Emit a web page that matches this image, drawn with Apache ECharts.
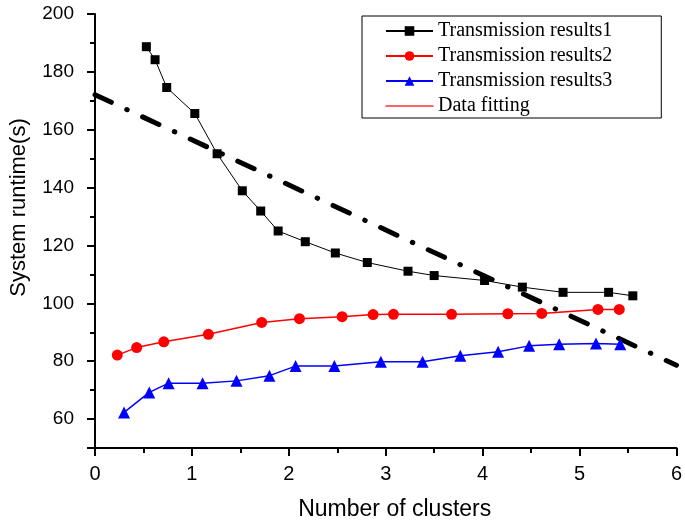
<!DOCTYPE html>
<html>
<head>
<meta charset="utf-8">
<script src="https://cdn.jsdelivr.net/npm/echarts@6/dist/echarts.min.js"></script>
<style>html,body{margin:0;padding:0;background:#fff}#c{width:685px;height:526px}</style>
</head>
<body>
<div id="c"></div>
<script>
const seriesNames = ['Transmission results1','Transmission results2','Transmission results3','Data fitting'];
const s1x = [0.53,0.62,0.74,1.03,1.26,1.52,1.71,1.89,2.17,2.48,2.81,3.23,3.50,4.02,4.41,4.83,5.30,5.55];
const s1y = [188.7,184.2,174.6,165.6,151.7,138.9,131.9,125.0,121.3,117.4,114.1,111.1,109.6,107.9,105.6,103.8,103.8,102.6];
const s2x = [0.23,0.43,0.71,1.17,1.72,2.11,2.55,2.87,3.08,3.68,4.26,4.61,5.19,5.41];
const s2y = [82.1,84.7,86.7,89.3,93.4,94.7,95.4,96.1,96.2,96.2,96.4,96.5,97.9,97.9];
const s3x = [0.30,0.56,0.76,1.11,1.46,1.80,2.07,2.47,2.95,3.38,3.77,4.16,4.48,4.79,5.17,5.42];
const s3y = [62.3,69.2,72.4,72.4,73.2,75.0,78.3,78.3,79.8,79.8,81.9,83.3,85.3,85.9,86.1,85.9];
const fitX = [0, 6];
const fitY = [172.1, 78.6];
const yLabelValues = [60,80,100,120,140,160,180,200];
const yMajorTicks = [50,60,80,100,120,140,160,180,200];

const pairs = (xs, ys) => xs.map((x, i) => [x, ys[i]]);
const axisCol = '#000';
const chart = echarts.init(document.getElementById('c'), null, {renderer:'canvas'});
const option = {
  animation: false,
  backgroundColor: '#fff',
  grid: {left: 92, right: 6, top: 14, bottom: 76},
  legend: {
    orient: 'vertical', left: 362, top: 16,
    padding: [5, 49, 2, 23],
    itemWidth: 47, itemHeight: 12, itemGap: 5,
    borderColor: '#000', borderWidth: 1,
    textStyle: {fontFamily: 'Liberation Serif', fontSize: 20, color: '#000', lineHeight: 20},
    data: [
      {name: seriesNames[0]},
      {name: seriesNames[1]},
      {name: seriesNames[2]},
      {name: seriesNames[3], itemStyle: {color: '#ff3030', opacity: 0, borderWidth: 0}, lineStyle: {color: '#ff3030', type: 'solid', width: 1.5, opacity: 1}}
    ]
  },
  xAxis: [{
    type: 'value', min: 0, max: 6, interval: 1,
    axisLine: {show: true, onZero: false, lineStyle: {color: axisCol, width: 2}},
    axisTick: {show: true, length: 8, lineStyle: {color: axisCol, width: 2}},
    minorTick: {show: true, splitNumber: 2, length: 5, lineStyle: {color: axisCol, width: 2}},
    splitLine: {show: false}, minorSplitLine: {show: false},
    axisLabel: {color: '#000', fontSize: 20, fontFamily: 'Liberation Sans', margin: 16},
    name: 'Number of clusters', nameLocation: 'middle', nameGap: 50,
    nameTextStyle: {fontSize: 23, color: '#000', fontFamily: 'Liberation Sans', padding: [0, 0, 0, 18]}
  }],
  yAxis: [{
    type: 'value', min: 50, max: 200, interval: 10,
    axisLine: {show: true, onZero: false, lineStyle: {color: axisCol, width: 2}},
    axisTick: {show: true, length: 5, lineStyle: {color: axisCol, width: 2}},
    splitLine: {show: false},
    axisLabel: {color: '#000', fontSize: 19, fontFamily: 'Liberation Sans', margin: 21, customValues: yLabelValues},
    name: 'System runtime(s)', nameLocation: 'middle', nameGap: 65,
    nameTextStyle: {fontSize: 22, color: '#000', fontFamily: 'Liberation Sans', padding: [0, 0, 0, 47]}
  }, {
    type: 'value', min: 50, max: 200, position: 'left', offset: 0,
    axisLine: {show: false},
    axisTick: {show: true, length: 8, lineStyle: {color: axisCol, width: 2}, customValues: yMajorTicks},
    axisLabel: {show: false},
    splitLine: {show: false}
  }],
  series: [
    {
      name: seriesNames[3], type: 'line', data: pairs(fitX, fitY), symbol: 'none', z: 2,
      lineStyle: {color: '#000', width: 5, type: [18, 17, 0.5, 17], cap: 'round'},
      itemStyle: {color: '#000'}
    },
    {
      name: seriesNames[0], type: 'line', data: pairs(s1x, s1y), symbol: 'rect', symbolSize: 9, z: 3,
      lineStyle: {color: '#000', width: 1}, itemStyle: {color: '#000'}
    },
    {
      name: seriesNames[1], type: 'line', data: pairs(s2x, s2y), symbol: 'circle', symbolSize: 11, z: 3,
      lineStyle: {color: '#ff0000', width: 1.5}, itemStyle: {color: '#ff0000'}
    },
    {
      name: seriesNames[2], type: 'line', data: pairs(s3x, s3y), symbol: 'triangle', symbolSize: 12, z: 3,
      lineStyle: {color: '#0000ff', width: 1.5}, itemStyle: {color: '#0000ff'}
    }
  ]
};
chart.setOption(option);
</script>
</body>
</html>
